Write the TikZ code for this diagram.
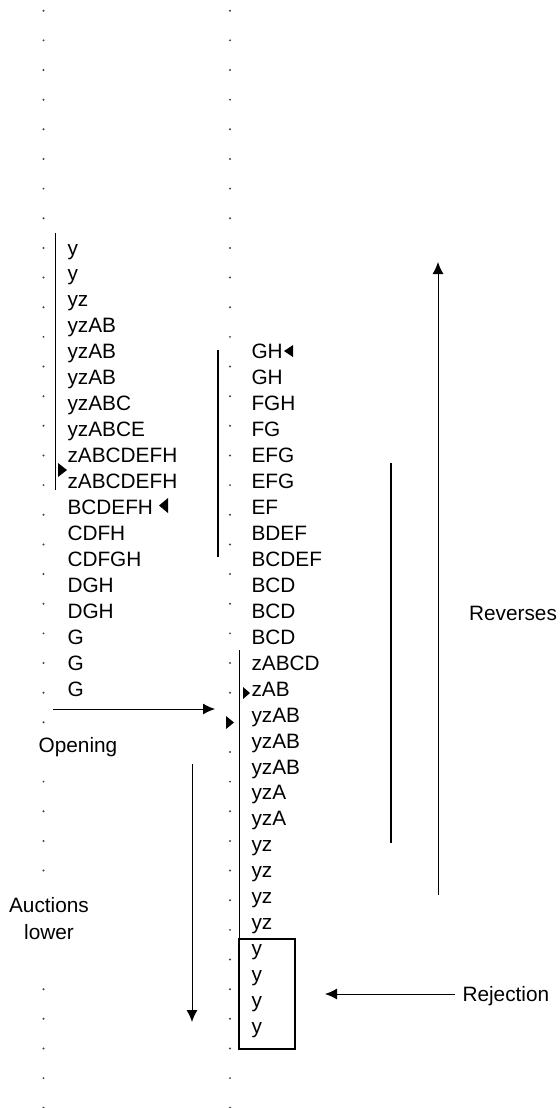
\documentclass[tikz,border=0pt]{standalone}
\usepackage{fontspec}
\setmainfont{Liberation Sans}
\usepackage{tikz}
\usetikzlibrary{arrows.meta}

\begin{document}
\begin{tikzpicture}[x=0.5pt, y=-0.5pt, line width=0.5pt,
  lbl/.style={inner sep=0pt, font=\fontsize{10.4}{12.5}\selectfont},
  row/.style={lbl, anchor=base west},
  bar/.style={line width=1.3pt},
  arr/.style={-{Latex[length=6pt, width=5.5pt]}}]
\useasboundingbox (0,0) rectangle (560,1108);

% tick dots
\foreach \k in {0,...,23,25,26,...,37}
  \fill[black!75] (230,10.7+29.65*\k) circle (0.55pt);
\foreach \k in {0,...,24}
  \fill[black!75] (43.5,10.7+29.65*\k) circle (0.55pt);
\foreach \k in {26,27,28,29,33,34,35,36,37}
  \fill[black!75] (43.5,10.7+29.65*\k) circle (0.55pt);

% left column
\node[row] (l0) at (67,255+0*25.95) {y};
\node[row] (l1) at (67,255+1*25.95) {y};
\node[row] (l2) at (67,255+2*25.95) {yz};
\node[row] (l3) at (67,255+3*25.95) {yzAB};
\node[row] (l4) at (67,255+4*25.95) {yzAB};
\node[row] (l5) at (67,255+5*25.95) {yzAB};
\node[row] (l6) at (67,255+6*25.95) {yzABC};
\node[row] (l7) at (67,255+7*25.95) {yzABCE};
\node[row] (l8) at (67,255+8*25.95) {zABCDEFH};
\node[row] (l9) at (67,255+9*25.95) {zABCDEFH};
\node[row] (l10) at (67,255+10*25.95) {BCDEFH};
\node[row] (l11) at (67,255+11*25.95) {CDFH};
\node[row] (l12) at (67,255+12*25.95) {CDFGH};
\node[row] (l13) at (67,255+13*25.95) {DGH};
\node[row] (l14) at (67,255+14*25.95) {DGH};
\node[row] (l15) at (67,255+15*25.95) {G};
\node[row] (l16) at (67,255+16*25.95) {G};
\node[row] (l17) at (67,255+17*25.95) {G};

% right column
\node[row] (r4) at (251,255+4*25.95) {GH};
\node[row] (r5) at (251,255+5*25.95) {GH};
\node[row] (r6) at (251,255+6*25.95) {FGH};
\node[row] (r7) at (251,255+7*25.95) {FG};
\node[row] (r8) at (251,255+8*25.95) {EFG};
\node[row] (r9) at (251,255+9*25.95) {EFG};
\node[row] (r10) at (251,255+10*25.95) {EF};
\node[row] (r11) at (251,255+11*25.95) {BDEF};
\node[row] (r12) at (251,255+12*25.95) {BCDEF};
\node[row] (r13) at (251,255+13*25.95) {BCD};
\node[row] (r14) at (251,255+14*25.95) {BCD};
\node[row] (r15) at (251,255+15*25.95) {BCD};
\node[row] (r16) at (251,255+16*25.95) {zABCD};
\node[row] (r17) at (251,255+17*25.95) {zAB};
\node[row] (r18) at (251,255+18*25.95) {yzAB};
\node[row] (r19) at (251,255+19*25.95) {yzAB};
\node[row] (r20) at (251,255+20*25.95) {yzAB};
\node[row] (r21) at (251,255+21*25.95) {yzA};
\node[row] (r22) at (251,255+22*25.95) {yzA};
\node[row] (r23) at (251,255+23*25.95) {yz};
\node[row] (r24) at (251,255+24*25.95) {yz};
\node[row] (r25) at (251,255+25*25.95) {yz};
\node[row] (r26) at (251,255+26*25.95) {yz};
\node[row] (r27) at (251,255+27*25.95) {y};
\node[row] (r28) at (251,255+28*25.95) {y};
\node[row] (r29) at (251,255+29*25.95) {y};
\node[row] (r30) at (251,255+30*25.95) {y};

% markers
\fill (58,463) -- (67,470) -- (58,477) -- cycle;
\fill (168,498) -- (159,505.5) -- (168,513) -- cycle;
\fill (293,345) -- (284,351) -- (293,357) -- cycle;
\fill (243,687) -- (250,693) -- (243,699) -- cycle;
\fill (226,716) -- (234,722.5) -- (226,729) -- cycle;

% bars
\draw (55,233) -- (55,490);
\draw[bar] (218,350) -- (218,557);
\draw (239,650) -- (239,939);
\draw[line width=1pt] (239,939) rectangle (295,1049);
\draw[bar] (391,463) -- (391,843);

% labels
\node[lbl] (opening) at (78,747) {Opening};
\node[lbl, align=center] (auctions) at (49,919) {Auctions\\[1pt]lower};
\node[lbl] (reverses) at (513,613) {Reverses};
\node[lbl, anchor=west] (rejection) at (462,996) {Rejection};

\coordinate (opena) at (53,709);
\coordinate (openb) at (215,709);
\coordinate (downa) at (192,764);
\coordinate (downb) at (192,1022);
\coordinate (upa) at (438,895);
\coordinate (upb) at (438,262);
\coordinate (reja) at (455,994);
\coordinate (rejb) at (325,994);

\draw[arr] (opena) -- (openb);
\draw[arr] (downa) -- (downb);
\draw[arr] (upa) -- (upb);
\draw[arr] (reja) -- (rejb);
\end{tikzpicture}
\end{document}
